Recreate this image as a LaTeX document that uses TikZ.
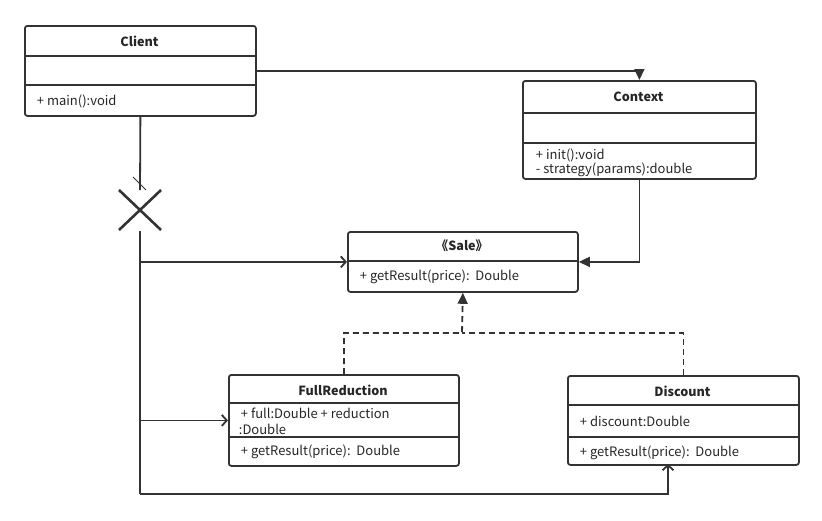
\documentclass[tikz,border=0pt]{standalone}
\usepackage{fontspec}
\setmainfont{Noto Sans CJK SC}
\usetikzlibrary{arrows.meta,calc}
\definecolor{umlgray}{HTML}{333333}

\begin{document}
\begin{tikzpicture}[x=1pt,y=-1pt,line width=1.8pt,color=umlgray,
  classbox/.style={draw,rounded corners=2.5pt,anchor=north west,inner sep=0pt},
  ctitle/.style={font=\fontsize{12.6}{14}\selectfont\bfseries,text=black!85},
  member/.style={font=\fontsize{13}{14}\selectfont,text=black!85,anchor=west,inner sep=0pt},
  assoc/.style={-{Triangle[length=11pt,width=10pt]}},
  dep/.style={-{Straight Barb[length=5pt,width=11pt]}},
  real/.style={dashed,dash pattern=on 6pt off 4pt,-{Triangle[length=11pt,width=10pt]}}]
\useasboundingbox (0,0) rectangle (822,520);

% classes
\node[classbox,minimum width=231pt,minimum height=90pt] (client) at (24,25) {};
\draw (24,56) -- (255,56) (24,85) -- (255,85);
\node[ctitle] (clientT) at (139.5,41) {Client};
\node[member] (clientM) at (36,101) {+ main():void};

\node[classbox,minimum width=233pt,minimum height=98pt] (context) at (522,80) {};
\draw (522,113) -- (755,113) (522,143) -- (755,143);
\node[ctitle] (contextT) at (638.5,97) {Context};
\node[member] (contextM1) at (535,155) {+ init():void};
\node[member] (contextM2) at (535,170) {- strategy(params):double};

\node[classbox,minimum width=230pt,minimum height=60pt] (sale) at (347,231) {};
\draw (347,261) -- (577,261);
\node[ctitle] (saleT) at (462,246) {《Sale》};
\node[member] (saleM) at (359,277) {+ getResult(price):\ \ Double};

\node[classbox,minimum width=230pt,minimum height=91pt] (fullred) at (228,374) {};
\draw (228,403) -- (458,403) (228,437) -- (458,437);
\node[ctitle] (fullredT) at (343,390) {FullReduction};
\node[member] (fullredA1) at (240,413) {+ full:Double + reduction};
\node[member] (fullredA2) at (238,429) {:Double};
\node[member] (fullredM) at (240,452) {+ getResult(price):\ \ Double};

\node[classbox,minimum width=231pt,minimum height=89pt] (discount) at (567,375) {};
\draw (567,405) -- (798,405) (567,437) -- (798,437);
\node[ctitle] (discountT) at (682.5,391) {Discount};
\node[member] (discountA) at (579,421) {+ discount:Double};
\node[member] (discountM) at (579,453) {+ getResult(price):\ \ Double};

% associations
\draw[assoc] (client.east) -| (context.north);
\draw[assoc] (context.south) |- (sale.east);

% dependencies from client, crossed
\coordinate (cut) at (140,190);
\coordinate (cross) at (140,210);
\coordinate (resume) at (140,231);
\coordinate (corner) at (140,494);
\coordinate (discIn) at (668,464);
\draw (client.south) -- (cut);
\draw[line width=1pt] (133,177) -- (146,190);
\draw[line width=2.6pt] ($(cross)+(-21,-20)$) -- ($(cross)+(21,20)$)
  ($(cross)+(-21,20)$) -- ($(cross)+(21,-20)$);
\draw (resume) -- (corner);
\draw[dep] (resume |- sale.west) -- (sale.west);
\draw[dep] (resume |- fullred.west) -- (fullred.west);
\draw[dep] (corner) -| (discIn);

% realization
\coordinate (meet) at (462,333);
\draw[real] (fullred.north) |- (meet) -- (sale.south);
\draw[dashed,dash pattern=on 6pt off 4pt] (discount.north) |- (meet);
\end{tikzpicture}
\end{document}
